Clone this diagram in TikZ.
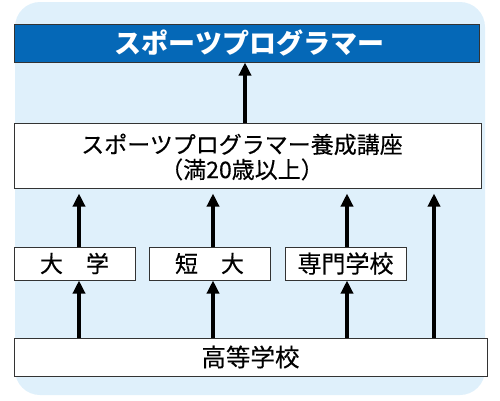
\documentclass[tikz,border=0pt]{standalone}
\usepackage{fontspec}
\setmainfont{Noto Sans CJK JP}
\newfontfamily\jpfont[FakeBold=0.4]{Noto Sans CJK JP}
\newfontfamily\jptop{Noto Sans CJK JP}
\usetikzlibrary{arrows.meta,calc}
\definecolor{bgblue}{HTML}{DFF0FB}
\definecolor{topblue}{HTML}{0568B7}
\definecolor{edge}{HTML}{333333}
\tikzset{
  box/.style={draw=edge,line width=1pt,fill=white,inner sep=0pt,font=\jpfont\fontsize{22}{25}\selectfont,align=center},
  topbox/.style={draw=edge,line width=1pt,fill=topblue,inner sep=0pt,text=white,font=\jptop\bfseries\fontsize{27}{30}\selectfont},
  uparrow/.style={line width=3.6pt,-{Triangle[width=12pt,length=13pt]}},
}
\begin{document}
\begin{tikzpicture}[x=1pt,y=-1pt]
\useasboundingbox (0,0) rectangle (500,400);
\fill[bgblue,rounded corners=25pt] (15,2) rectangle (485,395);
\node[topbox,minimum width=465pt,minimum height=38pt] (prog) at (246.5,43) {\hspace*{6pt}スポーツプログラマー};
\node[box,minimum width=467pt,minimum height=65pt] (koza) at (247.5,155.5) {};
\node[inner sep=0pt,align=center,font=\jpfont\fontsize{23}{25}\selectfont] (kozatext) at (242,157) {スポーツプログラマー養成講座\\（満20歳以上）};
\node[box,minimum width=121pt,minimum height=33pt,font=\jpfont\fontsize{23}{25}\selectfont] (dai) at (74.5,263.5) {大　学};
\node[box,minimum width=121pt,minimum height=33pt,font=\jpfont\fontsize{23}{25}\selectfont] (tan) at (209.5,263.5) {短　大};
\node[box,minimum width=121pt,minimum height=33pt,font=\jpfont\fontsize{24}{25}\selectfont] (sen) at (345.5,263.5) {専門学校};
\node[box,minimum width=473pt,minimum height=38pt,font=\jpfont\fontsize{24.5}{25}\selectfont] (hs) at (250.5,357) {高等学校};
\coordinate (c1) at (79,0);
\coordinate (c2) at (213,0);
\coordinate (c3) at (347,0);
\coordinate (c4) at (434,0);
\coordinate (c0) at (245,0);
\draw[uparrow] (koza.north -| c0) -- (prog.south -| c0);
\draw[uparrow] (hs.north -| c1) -- (dai.south -| c1);
\draw[uparrow] (hs.north -| c2) -- (tan.south -| c2);
\draw[uparrow] (hs.north -| c3) -- (sen.south -| c3);
\draw[uparrow,shorten >=5pt] (dai.north -| c1) -- (koza.south -| c1);
\draw[uparrow,shorten >=5pt] (tan.north -| c2) -- (koza.south -| c2);
\draw[uparrow,shorten >=5pt] (sen.north -| c3) -- (koza.south -| c3);
\draw[uparrow,shorten >=5pt] (hs.north -| c4) -- (koza.south -| c4);
\end{tikzpicture}
\end{document}
